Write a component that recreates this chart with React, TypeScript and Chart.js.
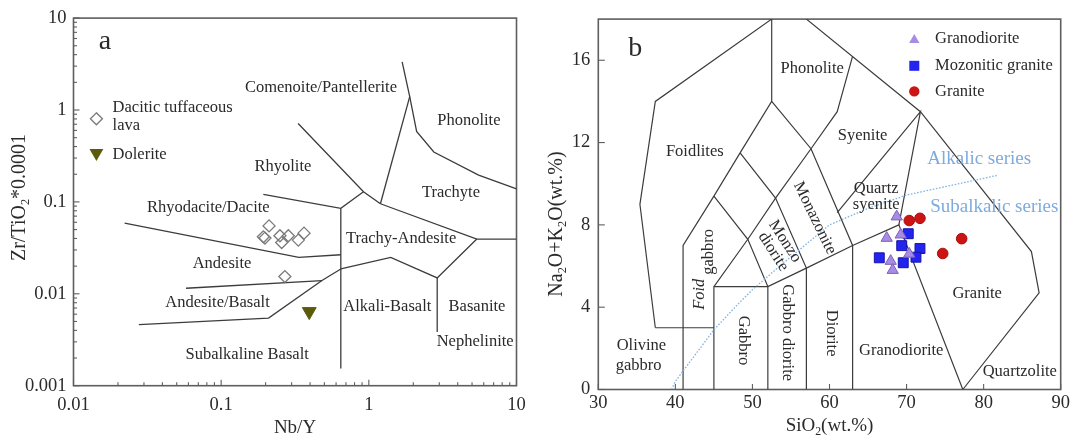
import React, { useEffect, useRef } from 'react';
import { Chart, registerables } from 'chart.js';

Chart.register(...registerables);

const FONT = '"Liberation Serif", "Times New Roman", serif';
const TEXT = '#2a2a2a';
const FRAME = '#5e5e5e';
const FIELD_LINE = '#3c3c3c';
const LABEL_SIZE = 16.5;

// ---------------- Panel a : Zr/TiO2*0.0001 vs Nb/Y ----------------
const nbyTickValues = [0.01, 0.1, 1, 10];
const nbyTickLabels = ['0.01', '0.1', '1', '10'];
const zrTickValues = [0.001, 0.01, 0.1, 1, 10];
const zrTickLabels = ['0.001', '0.01', '0.1', '1', '10'];

const daciticNbY = [0.211, 0.193, 0.198, 0.25, 0.257, 0.285, 0.333, 0.364, 0.27];
const daciticZr = [0.0548, 0.0417, 0.0404, 0.0428, 0.0361, 0.0428, 0.0384, 0.0457, 0.0154];
const doleriteNbY = [0.395];
const doleriteZr = [0.0064];

// field boundaries (Nb/Y, Zr/TiO2)
const wfBoundaries: number[][][] = [
  [[0.332, 0.713], [0.92, 0.1288], [1.198, 0.0955]],
  [[0.193, 0.1208], [0.646, 0.0851], [0.92, 0.1288]],
  [[1.198, 0.0955], [1.892, 1.397]],
  [[1.681, 3.34], [1.892, 1.397], [2.107, 0.584], [2.754, 0.349], [5.54, 0.1953], [10, 0.1388]],
  [[1.198, 0.0955], [5.385, 0.0394], [10, 0.0394]],
  [[5.385, 0.0394], [2.904, 0.0149], [1.407, 0.0249], [0.646, 0.01864]],
  [[2.904, 0.0149], [2.904, 0.00384]],
  [[0.646, 0.0851], [0.646, 0.001543]],
  [[0.0222, 0.0586], [0.3357, 0.0249], [0.646, 0.0266]],
  [[0.0578, 0.01149], [0.4815, 0.01393]],
  [[0.0277, 0.00462], [0.2094, 0.00545], [0.4815, 0.01393], [0.646, 0.01864]],
];

const fieldLabelsA = [
  { text: 'Comenoite/Pantellerite', x: 0.474, y: 1.749 },
  { text: 'Phonolite', x: 4.76, y: 0.763 },
  { text: 'Rhyolite', x: 0.262, y: 0.2444 },
  { text: 'Trachyte', x: 3.6, y: 0.1256 },
  { text: 'Rhyodacite/Dacite', x: 0.0818, y: 0.0865 },
  { text: 'Trachy-Andesite', x: 1.654, y: 0.0399 },
  { text: 'Andesite', x: 0.1013, y: 0.0214 },
  { text: 'Andesite/Basalt', x: 0.0945, y: 0.0081 },
  { text: 'Alkali-Basalt', x: 1.335, y: 0.00716 },
  { text: 'Basanite', x: 5.4, y: 0.00716 },
  { text: 'Nephelinite', x: 5.25, y: 0.003 },
  { text: 'Subalkaline Basalt', x: 0.15, y: 0.0022 },
];

// ---------------- Panel b : TAS ----------------
const sioTickValues = [30, 40, 50, 60, 70, 80, 90];
const alkTickValues = [0, 4, 8, 12, 16];

const granodioriteSiO2 = [68.72, 67.42, 69.24, 70.35, 67.94, 68.2];
const granodioriteAlk = [8.4, 7.36, 7.52, 6.59, 6.24, 5.8];
const mozoniticSiO2 = [70.22, 69.37, 66.46, 71.74, 71.22, 69.57];
const mozoniticAlk = [7.57, 6.99, 6.4, 6.85, 6.43, 6.16];
const graniteSiO2 = [70.35, 71.74, 77.15, 74.69];
const graniteAlk = [8.21, 8.32, 7.33, 6.61];

const irvineSiO2 = [39.5, 40, 43.2, 45, 48, 50, 53.7, 55, 60, 65, 70, 77.4, 81.7];
const irvineAlk = [0, 0.4, 2, 2.9, 4.1, 4.85, 6.05, 6.45, 8, 8.8, 9.45, 10.05, 10.4];

const tasBoundaries: number[][][] = [
  [[37.4, 3], [35.4, 9], [37.4, 14], [52.5, 18]],
  [[37.4, 3], [45, 3]],
  [[41, 0], [41, 7], [45, 9.4], [48.4, 11.5], [52.5, 14], [52.5, 18]],
  [[45, 0], [45, 5], [49.4, 7.3], [53, 9.3], [57.6, 11.7], [61, 13.5], [63, 16.2]],
  [[45, 5], [52, 5], [57, 5.9], [63, 7], [69, 8], [77.3, 0]],
  [[52, 0], [52, 5], [49.4, 7.3], [45, 9.4]],
  [[57, 0], [57, 5.9], [53, 9.3], [48.4, 11.5]],
  [[63, 0], [63, 7], [57.6, 11.7], [52.5, 14]],
  [[69, 8], [71.8, 13.5], [61, 8.6]],
  [[57, 18], [71.8, 13.5], [86.2, 6.7], [87.2, 4.7], [77.3, 0]],
];

const fieldLabelsB = [
  { text: 'Phonolite', x: 57.75, y: 15.58 },
  { text: 'Foidlites', x: 42.52, y: 11.57 },
  { text: 'Syenite', x: 64.29, y: 12.34 },
  { text: 'Quartz', x: 66.06, y: 9.77 },
  { text: 'syenite', x: 66.06, y: 8.97 },
  { text: 'Monazonite', x: 58.08, y: 8.33, rot: 64 },
  { text: 'Monzo', x: 54.2, y: 7.2, rot: 57 },
  { text: 'diorite', x: 52.7, y: 6.7, rot: 57 },
  { text: 'Foid', x: 43.18, y: 4.63, rot: -90, italic: true },
  { text: 'gabbro', x: 44.29, y: 6.69, rot: -90 },
  { text: 'Gabbro', x: 48.84, y: 2.38, rot: 90 },
  { text: 'Gabbro diorite', x: 54.58, y: 2.76, rot: 90 },
  { text: 'Diorite', x: 60.27, y: 2.74, rot: 90 },
  { text: 'Granodiorite', x: 69.31, y: 1.9 },
  { text: 'Granite', x: 79.16, y: 4.66 },
  { text: 'Quartzolite', x: 84.69, y: 0.86 },
  { text: 'Olivine', x: 35.59, y: 2.11 },
  { text: 'gabbro', x: 35.24, y: 1.15 },
];
const seriesLabels = [
  { text: 'Alkalic series', x: 79.42, y: 11.21 },
  { text: 'Subalkalic series', x: 81.38, y: 8.89 },
];

// ---------------- helpers ----------------
function seg(ctx: any, x1: number, y1: number, x2: number, y2: number) {
  ctx.beginPath();
  ctx.moveTo(x1, y1);
  ctx.lineTo(x2, y2);
  ctx.stroke();
}

function drawText(ctx: any, text: string, x: number, y: number, size: number, o: any = {}) {
  const { rot = 0, align = 'center', color = TEXT, italic = false } = o;
  ctx.save();
  ctx.translate(x, y);
  if (rot) ctx.rotate((rot * Math.PI) / 180);
  ctx.font = `${italic ? 'italic ' : ''}${size}px ${FONT}`;
  ctx.fillStyle = color;
  ctx.textAlign = align;
  ctx.textBaseline = 'middle';
  ctx.fillText(text, 0, 0);
  ctx.restore();
}

function drawRich(ctx: any, parts: [string, boolean][], x: number, y: number, size: number, rot: number) {
  ctx.save();
  ctx.translate(x, y);
  if (rot) ctx.rotate((rot * Math.PI) / 180);
  const sub = size * 0.62;
  let total = 0;
  const widths = parts.map(([t, s]) => {
    ctx.font = `${s ? sub : size}px ${FONT}`;
    const w = ctx.measureText(t).width;
    total += w;
    return w;
  });
  let cx = -total / 2;
  ctx.fillStyle = TEXT;
  ctx.textAlign = 'left';
  ctx.textBaseline = 'alphabetic';
  parts.forEach(([t, s], i) => {
    ctx.font = `${s ? sub : size}px ${FONT}`;
    ctx.fillText(t, cx, size * 0.33 + (s ? size * 0.2 : 0));
    cx += widths[i];
  });
  ctx.restore();
}

function triPath(ctx: any, x: number, y: number, r: number, rotDeg: number) {
  let rad = (rotDeg * Math.PI) / 180;
  ctx.beginPath();
  for (let i = 0; i < 3; i++) {
    const px = x + Math.sin(rad) * r;
    const py = y - Math.cos(rad) * r;
    if (i === 0) ctx.moveTo(px, py);
    else ctx.lineTo(px, py);
    rad += (2 * Math.PI) / 3;
  }
  ctx.closePath();
}

const toPts = (xs: number[], ys: number[]) => xs.map((x, i) => ({ x, y: ys[i] }));

// ---------------- plugins ----------------
const decorA = {
  id: 'decorA',
  beforeDatasetsDraw(chart: any) {
    const { ctx, chartArea: ca, scales } = chart;
    const x = scales.x;
    const y = scales.y;
    ctx.save();
    ctx.strokeStyle = FRAME;
    ctx.lineWidth = 1.6;
    ctx.strokeRect(ca.left, ca.top, ca.right - ca.left, ca.bottom - ca.top);
    ctx.lineWidth = 1.1;
    nbyTickValues.forEach((v) => {
      const p = x.getPixelForValue(v);
      seg(ctx, p, ca.bottom, p, ca.bottom - 6);
      if (v < 10) {
        for (let k = 2; k <= 9; k++) {
          const q = x.getPixelForValue(v * k);
          seg(ctx, q, ca.bottom, q, ca.bottom - 3.5);
        }
      }
    });
    zrTickValues.forEach((v) => {
      const p = y.getPixelForValue(v);
      seg(ctx, ca.left, p, ca.left + 6, p);
      if (v < 10) {
        for (let k = 2; k <= 9; k++) {
          const q = y.getPixelForValue(v * k);
          seg(ctx, ca.left, q, ca.left + 3.5, q);
        }
      }
    });
    ctx.restore();
  },
  afterDatasetsDraw(chart: any) {
    const { ctx, chartArea: ca, scales } = chart;
    const x = scales.x;
    const y = scales.y;
    fieldLabelsA.forEach((l) =>
      drawText(ctx, l.text, x.getPixelForValue(l.x), y.getPixelForValue(l.y), LABEL_SIZE)
    );
    // panel letter
    drawText(ctx, 'a', ca.left + 31.5, ca.top + 23.5, 28);
    // legend
    const mx = ca.left + 22.9;
    const tx = ca.left + 39.1;
    ctx.save();
    ctx.strokeStyle = '#7a7a7a';
    ctx.lineWidth = 1.3;
    const dy = ca.top + 100.7;
    ctx.beginPath();
    ctx.moveTo(mx, dy - 6);
    ctx.lineTo(mx + 6, dy);
    ctx.lineTo(mx, dy + 6);
    ctx.lineTo(mx - 6, dy);
    ctx.closePath();
    ctx.stroke();
    ctx.fillStyle = '#5b5b0c';
    triPath(ctx, mx, ca.top + 135, 8, 180);
    ctx.fill();
    ctx.restore();
    drawText(ctx, 'Dacitic tuffaceous', tx, ca.top + 90, LABEL_SIZE, { align: 'left' });
    drawText(ctx, 'lava', tx, ca.top + 108, LABEL_SIZE, { align: 'left' });
    drawText(ctx, 'Dolerite', tx, ca.top + 136.3, LABEL_SIZE, { align: 'left' });
    // axis titles
    drawText(ctx, 'Nb/Y', (ca.left + ca.right) / 2, 428, 19);
    drawRich(ctx, [['Zr/TiO', false], ['2', true], ['*0.0001', false]], 18.3, 197.5, 20, -90);
  },
};

const decorB = {
  id: 'decorB',
  beforeDatasetsDraw(chart: any) {
    const { ctx, chartArea: ca, scales } = chart;
    const x = scales.x;
    const y = scales.y;
    ctx.save();
    ctx.strokeStyle = FRAME;
    ctx.lineWidth = 1.6;
    ctx.strokeRect(ca.left, ca.top, ca.right - ca.left, ca.bottom - ca.top);
    ctx.lineWidth = 1.1;
    sioTickValues.forEach((v) => {
      const p = x.getPixelForValue(v);
      seg(ctx, p, ca.bottom, p, ca.bottom - 5.5);
    });
    alkTickValues.forEach((v) => {
      const p = y.getPixelForValue(v);
      seg(ctx, ca.left, p, ca.left + 6.5, p);
    });
    ctx.restore();
  },
  afterDatasetsDraw(chart: any) {
    const { ctx, chartArea: ca, scales } = chart;
    const x = scales.x;
    const y = scales.y;
    fieldLabelsB.forEach((l: any) =>
      drawText(ctx, l.text, x.getPixelForValue(l.x), y.getPixelForValue(l.y), LABEL_SIZE, {
        rot: l.rot || 0,
        italic: !!l.italic,
      })
    );
    seriesLabels.forEach((l) =>
      drawText(ctx, l.text, x.getPixelForValue(l.x), y.getPixelForValue(l.y), 19, { color: '#7eaadd' })
    );
    drawText(ctx, 'b', ca.left + 37, ca.top + 30, 28);
    // legend
    const mx = ca.left + 316;
    const tx = ca.left + 336.7;
    const rows = [ca.top + 20, ca.top + 46.7, ca.top + 72.3];
    ctx.save();
    ctx.fillStyle = '#a88be4';
    triPath(ctx, mx, rows[0] + 1, 6, 0);
    ctx.fill();
    ctx.fillStyle = '#2424f0';
    ctx.fillRect(mx - 5, rows[1] - 5, 10, 10);
    ctx.fillStyle = '#cc1414';
    ctx.beginPath();
    ctx.arc(mx, rows[2], 5.2, 0, Math.PI * 2);
    ctx.fill();
    ctx.restore();
    drawText(ctx, 'Granodiorite', tx, rows[0], LABEL_SIZE, { align: 'left' });
    drawText(ctx, 'Mozonitic granite', tx, rows[1], LABEL_SIZE, { align: 'left' });
    drawText(ctx, 'Granite', tx, rows[2], LABEL_SIZE, { align: 'left' });
    // axis titles
    drawRich(ctx, [['SiO', false], ['2', true], ['(wt.%)', false]], (ca.left + ca.right) / 2, 425, 19, 0);
    drawRich(
      ctx,
      [['Na', false], ['2', true], ['O+K', false], ['2', true], ['O(wt.%)', false]],
      15,
      224,
      20,
      -90
    );
  },
};

const lineDataset = (pts: number[][], color: string, width: number, dash: number[] = []) => ({
  data: pts.map(([x, y]) => ({ x, y })),
  showLine: true,
  borderColor: color,
  borderWidth: width,
  borderDash: dash,
  pointRadius: 0,
  fill: false,
  tension: 0,
});

function configA(): any {
  return {
    type: 'scatter',
    data: {
      datasets: [
        {
          data: toPts(doleriteNbY, doleriteZr),
          pointStyle: 'triangle',
          pointRotation: 180,
          pointRadius: 8,
          backgroundColor: '#5b5b0c',
          borderColor: '#5b5b0c',
          borderWidth: 1,
        },
        {
          data: toPts(daciticNbY, daciticZr),
          pointStyle: 'rectRot',
          pointRadius: 6,
          backgroundColor: 'rgba(255,255,255,0)',
          borderColor: '#7a7a7a',
          borderWidth: 1.3,
        },
        ...wfBoundaries.map((b) => lineDataset(b, FIELD_LINE, 1.3)),
      ],
    },
    options: {
      animation: false,
      responsive: false,
      events: [],
      layout: { padding: { left: 0, right: 23.5, top: 16, bottom: 0 } },
      plugins: { legend: { display: false }, tooltip: { enabled: false } },
      scales: {
        x: {
          type: 'logarithmic',
          min: 0.01,
          max: 10,
          grid: { display: false, drawTicks: false },
          border: { display: false },
          afterBuildTicks: (s: any) => {
            s.ticks = nbyTickValues.map((v) => ({ value: v }));
          },
          afterFit: (s: any) => {
            s.height = 49.3;
          },
          ticks: {
            callback: (_v: any, i: number) => nbyTickLabels[i],
            font: { family: FONT, size: 18.5 },
            color: TEXT,
            padding: 8,
            maxRotation: 0,
            autoSkip: false,
          },
        },
        y: {
          type: 'logarithmic',
          min: 0.001,
          max: 10,
          grid: { display: false, drawTicks: false },
          border: { display: false },
          afterBuildTicks: (s: any) => {
            s.ticks = zrTickValues.map((v) => ({ value: v }));
          },
          afterFit: (s: any) => {
            s.width = 73.5;
          },
          ticks: {
            callback: (_v: any, i: number) => zrTickLabels[i],
            font: { family: FONT, size: 18.5 },
            color: TEXT,
            padding: 7,
            autoSkip: false,
          },
        },
      },
    },
    plugins: [decorA],
  };
}

function configB(): any {
  return {
    type: 'scatter',
    data: {
      datasets: [
        {
          data: toPts(granodioriteSiO2, granodioriteAlk),
          pointStyle: 'triangle',
          pointRadius: 6.5,
          backgroundColor: '#a88be4',
          borderColor: '#7d62b6',
          borderWidth: 1,
        },
        {
          data: toPts(mozoniticSiO2, mozoniticAlk),
          pointStyle: 'rect',
          pointRadius: 7,
          backgroundColor: '#2424f0',
          borderColor: '#1414a8',
          borderWidth: 1,
        },
        {
          data: toPts(graniteSiO2, graniteAlk),
          pointStyle: 'circle',
          pointRadius: 5.3,
          backgroundColor: '#cc1414',
          borderColor: '#a80c0c',
          borderWidth: 1,
        },
        lineDataset(
          irvineSiO2.map((x, i) => [x, irvineAlk[i]]),
          '#84b4e4',
          1.3,
          [1.6, 1.6]
        ),
        ...tasBoundaries.map((b) => lineDataset(b, FIELD_LINE, 1.2)),
      ],
    },
    options: {
      animation: false,
      responsive: false,
      events: [],
      layout: { padding: { left: 0, right: 14.3, top: 15, bottom: 0 } },
      plugins: { legend: { display: false }, tooltip: { enabled: false } },
      scales: {
        x: {
          type: 'linear',
          min: 30,
          max: 90,
          grid: { display: false, drawTicks: false },
          border: { display: false },
          afterBuildTicks: (s: any) => {
            s.ticks = sioTickValues.map((v) => ({ value: v }));
          },
          afterFit: (s: any) => {
            s.height = 45.5;
          },
          ticks: {
            callback: (v: any) => String(v),
            font: { family: FONT, size: 18.5 },
            color: TEXT,
            padding: 3,
            maxRotation: 0,
            autoSkip: false,
          },
        },
        y: {
          type: 'linear',
          min: 0,
          max: 18,
          grid: { display: false, drawTicks: false },
          border: { display: false },
          afterBuildTicks: (s: any) => {
            s.ticks = alkTickValues.map((v) => ({ value: v }));
          },
          afterFit: (s: any) => {
            s.width = 58.3;
          },
          ticks: {
            callback: (v: any) => String(v),
            font: { family: FONT, size: 18.5 },
            color: TEXT,
            padding: 8,
            autoSkip: false,
          },
        },
      },
    },
    plugins: [decorB],
  };
}

export default function App() {
  const refA = useRef<HTMLCanvasElement>(null);
  const refB = useRef<HTMLCanvasElement>(null);
  useEffect(() => {
    const a = new Chart(refA.current as HTMLCanvasElement, configA());
    const b = new Chart(refB.current as HTMLCanvasElement, configB());
    return () => {
      a.destroy();
      b.destroy();
    };
  }, []);
  return (
    <div style={{ position: 'fixed', left: 0, top: 0, width: 1075, height: 435, background: '#fff' }}>
      <canvas
        ref={refA}
        width={540}
        height={435}
        style={{ position: 'absolute', left: 0, top: 0, width: 540, height: 435 }}
      />
      <canvas
        ref={refB}
        width={535}
        height={435}
        style={{ position: 'absolute', left: 540, top: 0, width: 535, height: 435 }}
      />
    </div>
  );
}
